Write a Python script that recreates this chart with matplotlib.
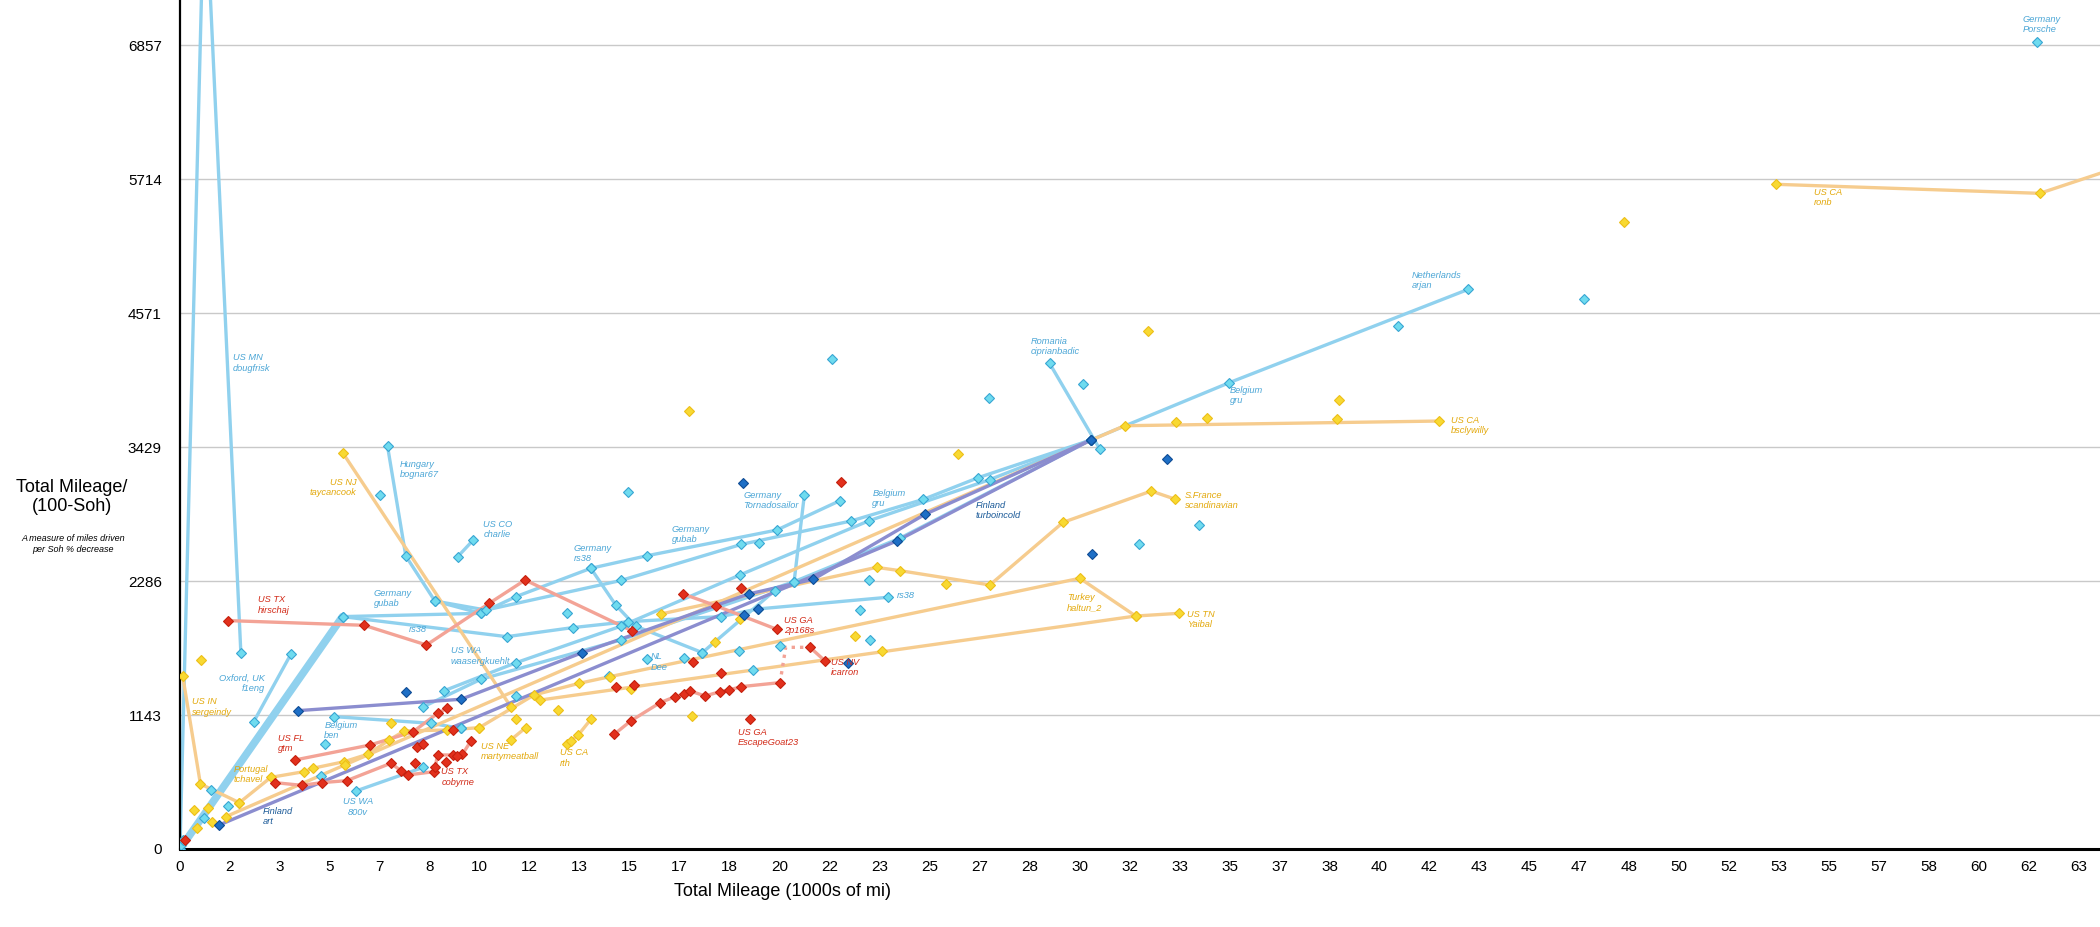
import matplotlib
matplotlib.use("Agg")
import matplotlib.pyplot as plt

# ---- values: x = total mileage (1000s of mi), y = mileage / (100 - SoH) ----

# light blue owners
dougfrisk_x = [0, 0.82, 2.03]
dougfrisk_y = [0, 8330, 1669]
f1eng_x = [2.46, 3.7]
f1eng_y = [1086, 1663]
start_x = [0, 5.42]
start_y = [0, 1982]
gubab_x = [5.42, 10.03, 11.2, 13.7, 15.57, 19.9, 22.0]
gubab_y = [1982, 2010, 2152, 2394, 2501, 2720, 2970]
rs38_x = [5.42, 10.9, 13.09, 14.94, 18.03, 19.26, 23.61]
rs38_y = [1982, 1811, 1888, 1939, 1982, 2047, 2147]
bognar_x = [6.92, 7.53, 8.5, 10.03]
bognar_y = [3437, 2499, 2115, 2010]
charlie_x = [9.26, 9.78]
charlie_y = [2493, 2635]
de_rs38_x = [13.7, 14.53, 15.2, 17.42]
de_rs38_y = [2394, 2081, 1900, 1675]
tornado_x = [17.42, 19.83, 20.48, 20.82]
tornado_y = [1675, 2203, 2280, 3016]
arjan_x = [8.5, 10.2, 14.7, 18.72, 22.37, 24.79, 26.62, 30.37, 34.99, 42.96]
arjan_y = [2115, 2038, 2290, 2598, 2797, 2982, 3167, 3488, 3977, 4773]
gru_x = [8.79, 11.22, 14.7, 18.67, 22.98, 27.0, 30.37]
gru_y = [1348, 1590, 1900, 2337, 2800, 3150, 3488]
waaser_x = [8.12, 10.03, 14.7, 20.48, 24.0, 30.37]
waaser_y = [1214, 1447, 1783, 2280, 2650, 3488]
ciprian_x = [29.0, 30.68]
ciprian_y = [4142, 3408]
ben_x = [5.14, 8.37, 9.37]
ben_y = [1129, 1072, 1029]
wa800v_x = [5.87, 8.12]
wa800v_y = [495, 697]
cyan_pts_x = [6.68, 14.94, 21.76, 26.97, 30.11, 40.61, 46.83, 61.94, 33.98, 31.98,
              22.98, 22.68, 23.01, 18.64, 19.12, 16.81, 15.56, 20.01, 19.31, 12.9,
              4.7, 4.84, 0.03, 0.81, 1.03, 1.61, 11.22, 9.37, 14.31, 0.1]
cyan_pts_y = [3019, 3042, 4179, 3849, 3963, 4463, 4688, 6886, 2763, 2601,
              2294, 2039, 1783, 1692, 1527, 1632, 1621, 1731, 2607, 2010,
              623, 893, 34, 262, 503, 367, 1305, 1029, 1476, 80]

# dark blue owners
art_x = [1.31, 23.9, 30.37]
art_y = [205, 2627, 3488]
turbo_x = [3.93, 9.37, 13.42, 18.96, 21.12, 24.84, 30.37]
turbo_y = [1180, 1277, 1675, 2175, 2300, 2854, 3488]
dark_pts_x = [7.54, 18.78, 32.92, 30.43, 19.26, 18.81, 22.29]
dark_pts_y = [1336, 3124, 3323, 2513, 2047, 1996, 1589]

# red owners
hirschaj_x = [1.61, 6.14, 8.22, 10.31, 11.51, 15.09]
hirschaj_y = [1948, 1908, 1740, 2095, 2294, 1859]
gtm_x = [3.83, 6.34, 7.78, 8.59, 8.9]
gtm_y = [759, 887, 1001, 1157, 1200]
cobyrne_x = [3.17, 4.06, 4.73, 5.56, 7.03, 7.37, 7.59, 8.48, 8.59, 9.09, 9.42, 9.7]
cobyrne_y = [566, 543, 566, 583, 731, 668, 631, 660, 802, 802, 808, 921]
p168s_x = [16.78, 17.87, 19.9]
p168s_y = [2175, 2075, 1874]
goat_x = [14.49, 15.03, 16.01, 16.51, 16.81, 17.01, 17.51, 18.01, 18.31, 18.72, 20.01]
goat_y = [980, 1092, 1248, 1299, 1322, 1348, 1305, 1342, 1356, 1385, 1419]
goat_gap_x = [20.01, 20.2, 21.01]
goat_gap_y = [1419, 1720, 1720]
icarron_x = [21.01, 21.51]
icarron_y = [1720, 1604]
red_pts_x = [0.17, 7.92, 8.11, 9.12, 7.84, 8.5, 8.88, 9.23, 18.7, 22.06,
             19.01, 18.03, 17.12, 15.14, 14.53]
red_pts_y = [77, 873, 893, 1015, 736, 702, 745, 793, 2223, 3132,
             1109, 1498, 1598, 1399, 1385]

# yellow owners
taycan_x = [5.44, 11.03]
taycan_y = [3374, 1214]
sergeindy_x = [0.09, 0.68, 1.98]
sergeindy_y = [1476, 555, 395]
tchavel_x = [1.98, 3.03, 4.14, 4.42, 5.48, 6.26, 6.98, 7.48, 8.92, 9.98]
tchavel_y = [395, 611, 660, 688, 745, 808, 930, 1007, 1015, 1035]
marty_x = [11.03, 11.53]
marty_y = [930, 1035]
rth_x = [12.9, 13.03, 13.28, 13.7]
rth_y = [895, 921, 972, 1106]
haltun_x = [9.98, 11.81, 13.31, 14.34, 30.01, 31.87]
haltun_y = [1035, 1314, 1413, 1470, 2309, 1987]
yaibal_x = [12.0, 31.87, 33.31]
yaibal_y = [1270, 1987, 2010]
scandi_x = [16.03, 23.23, 24.01, 27.01, 29.45, 32.39, 33.17]
scandi_y = [2004, 2402, 2374, 2252, 2786, 3053, 2985]
bscly_x = [1.53, 31.5, 41.98]
bscly_y = [276, 3610, 3650]
ronb_x = [53.24, 62.02, 66.0]
ronb_y = [5669, 5592, 5930]
yel_pts_x = [0.7, 16.98, 25.93, 32.29, 38.66, 48.17, 33.2, 34.24, 38.59, 12.62,
             11.22, 0.46, 0.57, 0.94, 1.06, 22.51, 23.42, 17.06, 15.03, 17.84,
             18.67, 25.55, 7.03, 5.5]
yel_pts_y = [1612, 3738, 3366, 4420, 3829, 5350, 3644, 3673, 3667, 1186,
             1106, 333, 176, 347, 233, 1817, 1692, 1137, 1362, 1766,
             1959, 2261, 1072, 720]

x_ticks = [i * 5 / 3 for i in range(39)]
y_ticks = [i * 8000 / 7 for i in range(7)]

# ---- styles ----
CYAN = dict(line="#90d1ee", face="#6fdbef", edge="#38a6d3", text="#4ba6d6")
DARK = dict(line="#8b8dcf", face="#1e6fc6", edge="#0f4c95", text="#1b5a98")
RED = dict(line="#f3a396", face="#e2301c", edge="#c5200e", text="#d22a18")
YEL = dict(line="#f6cc8e", face="#f8d932", edge="#edbf18", text="#e3a90c")
MS = 5.6

fig = plt.figure(figsize=(21, 9.27), dpi=100)
plt.rcParams['font.family'] = ['Liberation Sans', 'DejaVu Sans']
ax = fig.add_axes([180 / 2100, 78 / 927, 1920 / 2100, 849 / 927])


def draw(xs, ys, st, lw=2.4, ls='-', marks=True):
    ax.plot(xs, ys, color=st["line"], lw=lw, ls=ls, solid_capstyle='round', zorder=2)
    if marks:
        ax.plot(xs, ys, ls='none', marker='D', ms=MS, mfc=st["face"], mec=st["edge"], mew=0.8, zorder=4)


def pts(xs, ys, st):
    ax.plot(xs, ys, ls='none', marker='D', ms=MS, mfc=st["face"], mec=st["edge"], mew=0.8, zorder=4)


def label(txt, x, y, st, ha='left'):
    ax.text(x, y, txt, color=st["text"], fontsize=6.7, style='italic', ha=ha, va='center',
            linespacing=1.15, zorder=5)


# light blue
draw(start_x, start_y, CYAN, lw=5.5, marks=False)
for xs, ys in [(dougfrisk_x, dougfrisk_y), (f1eng_x, f1eng_y), (gubab_x, gubab_y), (rs38_x, rs38_y),
               (bognar_x, bognar_y), (charlie_x, charlie_y), (de_rs38_x, de_rs38_y), (tornado_x, tornado_y),
               (arjan_x, arjan_y), (gru_x, gru_y), (waaser_x, waaser_y), (ciprian_x, ciprian_y),
               (ben_x, ben_y), (wa800v_x, wa800v_y)]:
    draw(xs, ys, CYAN)
pts(cyan_pts_x, cyan_pts_y, CYAN)

# yellow
for xs, ys in [(taycan_x, taycan_y), (sergeindy_x, sergeindy_y), (tchavel_x, tchavel_y), (marty_x, marty_y),
               (rth_x, rth_y), (haltun_x, haltun_y), (yaibal_x, yaibal_y), (scandi_x, scandi_y),
               (bscly_x, bscly_y), (ronb_x, ronb_y)]:
    draw(xs, ys, YEL)
pts(yel_pts_x, yel_pts_y, YEL)

# dark blue
draw(art_x, art_y, DARK)
draw(turbo_x, turbo_y, DARK)
pts(dark_pts_x, dark_pts_y, DARK)

# red
for xs, ys in [(hirschaj_x, hirschaj_y), (gtm_x, gtm_y), (cobyrne_x, cobyrne_y), (p168s_x, p168s_y),
               (goat_x, goat_y), (icarron_x, icarron_y)]:
    draw(xs, ys, RED)
ax.plot(goat_gap_x, goat_gap_y, color=RED["line"], lw=2.4, ls=(0, (1, 1.5)), zorder=2)
pts(red_pts_x, red_pts_y, RED)

# owner labels
label("US MN\ndougfrisk", 1.77, 4145, CYAN)
label("Oxford, UK\nf1eng", 2.83, 1410, CYAN, ha='right')
label("Germany\ngubab", 6.46, 2135, CYAN)
label("rs38", 7.64, 1876, CYAN)
label("Hungary\nbognar67", 7.33, 3235, CYAN)
label("US CO\ncharlie", 10.12, 2723, CYAN)
label("Germany\nrs38", 13.14, 2524, CYAN)
label("US WA\nwaasergkuehlt", 9.03, 1646, CYAN)
label("Belgium\nben", 4.81, 1009, CYAN)
label("US WA\n800v", 5.93, 358, CYAN, ha='center')
label("NL\nDee", 15.7, 1595, CYAN)
label("Germany\ngubab", 16.4, 2681, CYAN)
label("Germany\nTornadosailor", 18.79, 2976, CYAN)
label("Belgium\ngru", 23.09, 2993, CYAN)
label("rs38", 23.92, 2161, CYAN)
label("Romania\nciprianbadic", 28.37, 4287, CYAN)
label("Belgium\ngru", 35.01, 3869, CYAN)
label("Netherlands\narjan", 41.07, 4850, CYAN)
label("Germany\nPorsche", 61.46, 7033, CYAN)
label("Finland\nart", 2.76, 276, DARK)
label("Finland\nturboincold", 26.53, 2885, DARK)
label("US TX\nhirschaj", 2.61, 2081, RED)
label("US FL\ngtm", 3.26, 901, RED)
label("US TX\ncobyrne", 8.72, 614, RED)
label("US GA\n2p168s", 20.14, 1908, RED)
label("US GA\nEscapeGoat23", 18.61, 950, RED)
label("US NV\nicarron", 21.7, 1550, RED)
label("US NJ\ntaycancook", 5.89, 3087, YEL, ha='right')
label("US IN\nsergeindy", 0.39, 1211, YEL)
label("Portugal\ntchavel", 1.79, 634, YEL)
label("US NE\nmartymeatball", 10.03, 830, YEL)
label("US CA\nrth", 12.68, 776, YEL)
label("Turkey\nhaltun_2", 29.57, 2098, YEL)
label("US TN\nYaibal", 33.57, 1956, YEL)
label("S.France\nscandinavian", 33.5, 2973, YEL)
label("US CA\nbsclywilly", 42.38, 3608, YEL)
label("US CA\nronb", 54.5, 5555, YEL)

# axes
ax.set_xlim(0, 64.03)
ax.set_ylim(0, 7241)
ax.set_xticks(x_ticks)
ax.set_xticklabels([str(round(v)) for v in x_ticks])
ax.set_yticks(y_ticks)
ax.set_yticklabels([str(round(v)) for v in y_ticks])
ax.tick_params(axis='x', length=0, pad=8, labelsize=11)
ax.tick_params(axis='y', length=0, pad=13, labelsize=11)
ax.grid(axis='y', color='#c9c9c9', lw=1)
ax.set_axisbelow(True)
for s in ['top', 'right']:
    ax.spines[s].set_visible(False)
ax.spines['left'].set_linewidth(1.6)
ax.spines['bottom'].set_linewidth(2.2)

fig.text(0.0343, 0.4639, "Total Mileage/\n(100-Soh)", fontsize=13, ha='center', va='center', linespacing=1.15)
fig.text(0.0348, 0.4132, "A measure of miles driven\nper Soh % decrease", fontsize=6.5, style='italic',
         ha='center', va='center', linespacing=1.2)
fig.text(0.3724, 0.0378, "Total Mileage (1000s of mi)", fontsize=13, ha='center', va='center')

fig.savefig("out.png", dpi=100)
